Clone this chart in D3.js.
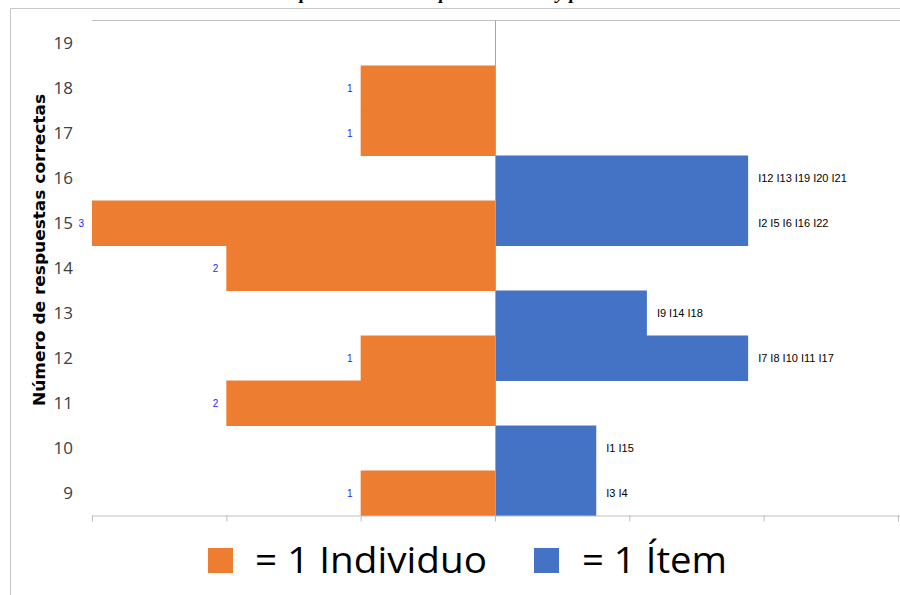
<!DOCTYPE html>
<html>
<head>
<meta charset="utf-8">
<script src="https://cdn.jsdelivr.net/npm/d3@7"></script>
<style>
  html, body { margin: 0; padding: 0; background: #fff; }
  svg { display: block; }
</style>
</head>
<body>
<svg id="chart" width="900" height="595"></svg>
<script>
// Número de respuestas correctas (eje vertical, de arriba abajo)
const puntajes = [19, 18, 17, 16, 15, 14, 13, 12, 11, 10, 9];
// Individuos que obtuvieron cada puntaje (barras naranjas, hacia la izquierda)
const individuos = [0, 1, 1, 0, 3, 2, 0, 1, 2, 0, 1];
// Ítems ubicados en cada nivel (barras azules, hacia la derecha)
const items = [
  [], [], [],
  ["I12", "I13", "I19", "I20", "I21"],
  ["I2", "I5", "I6", "I16", "I22"],
  [],
  ["I9", "I14", "I18"],
  ["I7", "I8", "I10", "I11", "I17"],
  [],
  ["I1", "I15"],
  ["I3", "I4"]
];
const ejeX = [-3, -2, -1, 0, 1, 2, 3];
const titulo = "Número de respuestas correctas por individuos y personas";
const leyenda = ["= 1 Individuo", "= 1 Ítem"];

const NARANJA = "#ED7D31", AZUL = "#4472C4";

const svg = d3.select("#chart");

const y = d3.scaleBand().domain(puntajes).range([20.5, 515.5]).paddingInner(0).paddingOuter(0);
const xAxisScale = d3.scaleLinear().domain([-3, 3]).range([92, 898]);
const xInd = d3.scaleLinear().domain([0, 3]).range([xAxisScale(0), xAxisScale(-3)]);
const xItem = d3.scaleLinear().domain([0, 8]).range([xAxisScale(0), 900]);

// título (la página lo recorta por arriba; solo asoman los trazos descendentes)
svg.append("text")
  .attr("x", 412).attr("y", -1.5)
  .attr("text-anchor", "middle")
  .attr("font-family", "Liberation Serif, Times New Roman, serif")
  .attr("font-style", "italic").attr("font-weight", "bold")
  .attr("font-size", 19).attr("fill", "#000")
  .text(titulo);
svg.append("rect").attr("x", 0).attr("y", 8).attr("width", 900).attr("height", 12).attr("fill", "#fff");

// marco exterior
svg.append("path")
  .attr("d", "M10.5,595 V8.5 H900")
  .attr("fill", "none").attr("stroke", "#C8C8C8").attr("stroke-width", 1);

// línea superior del área de trazado
svg.append("line")
  .attr("x1", 92).attr("x2", 900).attr("y1", 20.5).attr("y2", 20.5)
  .attr("stroke", "#BFBFBF");

const data = puntajes.map((p, i) => ({ p, n: individuos[i], it: items[i] }));

// barras de individuos
svg.append("g").selectAll("rect")
  .data(data.filter(d => d.n > 0)).join("rect")
  .attr("x", d => xInd(d.n))
  .attr("y", d => y(d.p))
  .attr("width", d => xInd(0) - xInd(d.n))
  .attr("height", y.bandwidth() + 0.5)
  .attr("fill", NARANJA);

// barras de ítems
svg.append("g").selectAll("rect")
  .data(data.filter(d => d.it.length > 0)).join("rect")
  .attr("x", xItem(0))
  .attr("y", d => y(d.p))
  .attr("width", d => xItem(d.it.length) - xItem(0))
  .attr("height", y.bandwidth() + 0.5)
  .attr("fill", AZUL);

// línea central
svg.append("line")
  .attr("x1", xAxisScale(0) + 0.5).attr("x2", xAxisScale(0) + 0.5)
  .attr("y1", 20.5).attr("y2", 515.5)
  .attr("stroke", "#A6A6A6");

// etiquetas de individuos
svg.append("g").selectAll("text")
  .data(data.filter(d => d.n > 0)).join("text")
  .attr("x", d => xInd(d.n) - 8)
  .attr("y", d => y(d.p) + y.bandwidth() / 2 + 3.5)
  .attr("text-anchor", "end")
  .attr("font-family", "Liberation Sans, Arial, sans-serif")
  .attr("font-size", 10).attr("fill", "#1F1FFF")
  .text(d => d.n);

// etiquetas de ítems
svg.append("g").selectAll("text")
  .data(data.filter(d => d.it.length > 0)).join("text")
  .attr("x", d => xItem(d.it.length) + 10)
  .attr("y", d => y(d.p) + y.bandwidth() / 2 + 4)
  .attr("font-family", "Liberation Sans, Arial, sans-serif")
  .attr("font-size", 11).attr("fill", "#000")
  .text(d => d.it.join(" "));

// eje horizontal
const gx = svg.append("g")
  .attr("transform", "translate(0,515.5)")
  .call(d3.axisBottom(xAxisScale).tickValues(ejeX).tickSize(6).tickFormat(""));
gx.select(".domain").attr("stroke", "#BFBFBF").attr("d", "M92,0.5H900");
gx.selectAll(".tick line").attr("stroke", "#BFBFBF");

// eje vertical (solo etiquetas)
const gy = svg.append("g")
  .attr("transform", "translate(73,0)")
  .call(d3.axisLeft(y).tickSize(0).tickPadding(0));
gy.select(".domain").remove();
gy.selectAll(".tick text")
  .attr("font-family", "Open Sans, Noto Sans, sans-serif")
  .attr("font-size", 17).attr("fill", "#404040")
  .attr("dy", "0.35em");

// título del eje vertical
svg.append("text")
  .attr("transform", "translate(45,250) rotate(-90)")
  .attr("text-anchor", "middle")
  .attr("font-family", "DejaVu Sans, sans-serif")
  .attr("font-weight", "bold")
  .attr("font-size", 16).attr("fill", "#000")
  .attr("textLength", 312).attr("lengthAdjust", "spacingAndGlyphs")
  .text("Número de respuestas correctas");

// leyenda
const leg = svg.append("g");
leg.append("rect").attr("x", 208).attr("y", 548).attr("width", 25).attr("height", 25).attr("fill", NARANJA);
leg.append("text").attr("x", 255).attr("y", 573)
  .attr("font-family", "Open Sans, Noto Sans, sans-serif").attr("font-size", 37).attr("fill", "#000")
  .attr("textLength", 232).attr("lengthAdjust", "spacingAndGlyphs")
  .text(leyenda[0]);
leg.append("rect").attr("x", 534).attr("y", 548).attr("width", 25).attr("height", 25).attr("fill", AZUL);
leg.append("text").attr("x", 582).attr("y", 573)
  .attr("font-family", "Open Sans, Noto Sans, sans-serif").attr("font-size", 37).attr("fill", "#000")
  .attr("textLength", 145).attr("lengthAdjust", "spacingAndGlyphs")
  .text(leyenda[1]);
</script>
</body>
</html>
